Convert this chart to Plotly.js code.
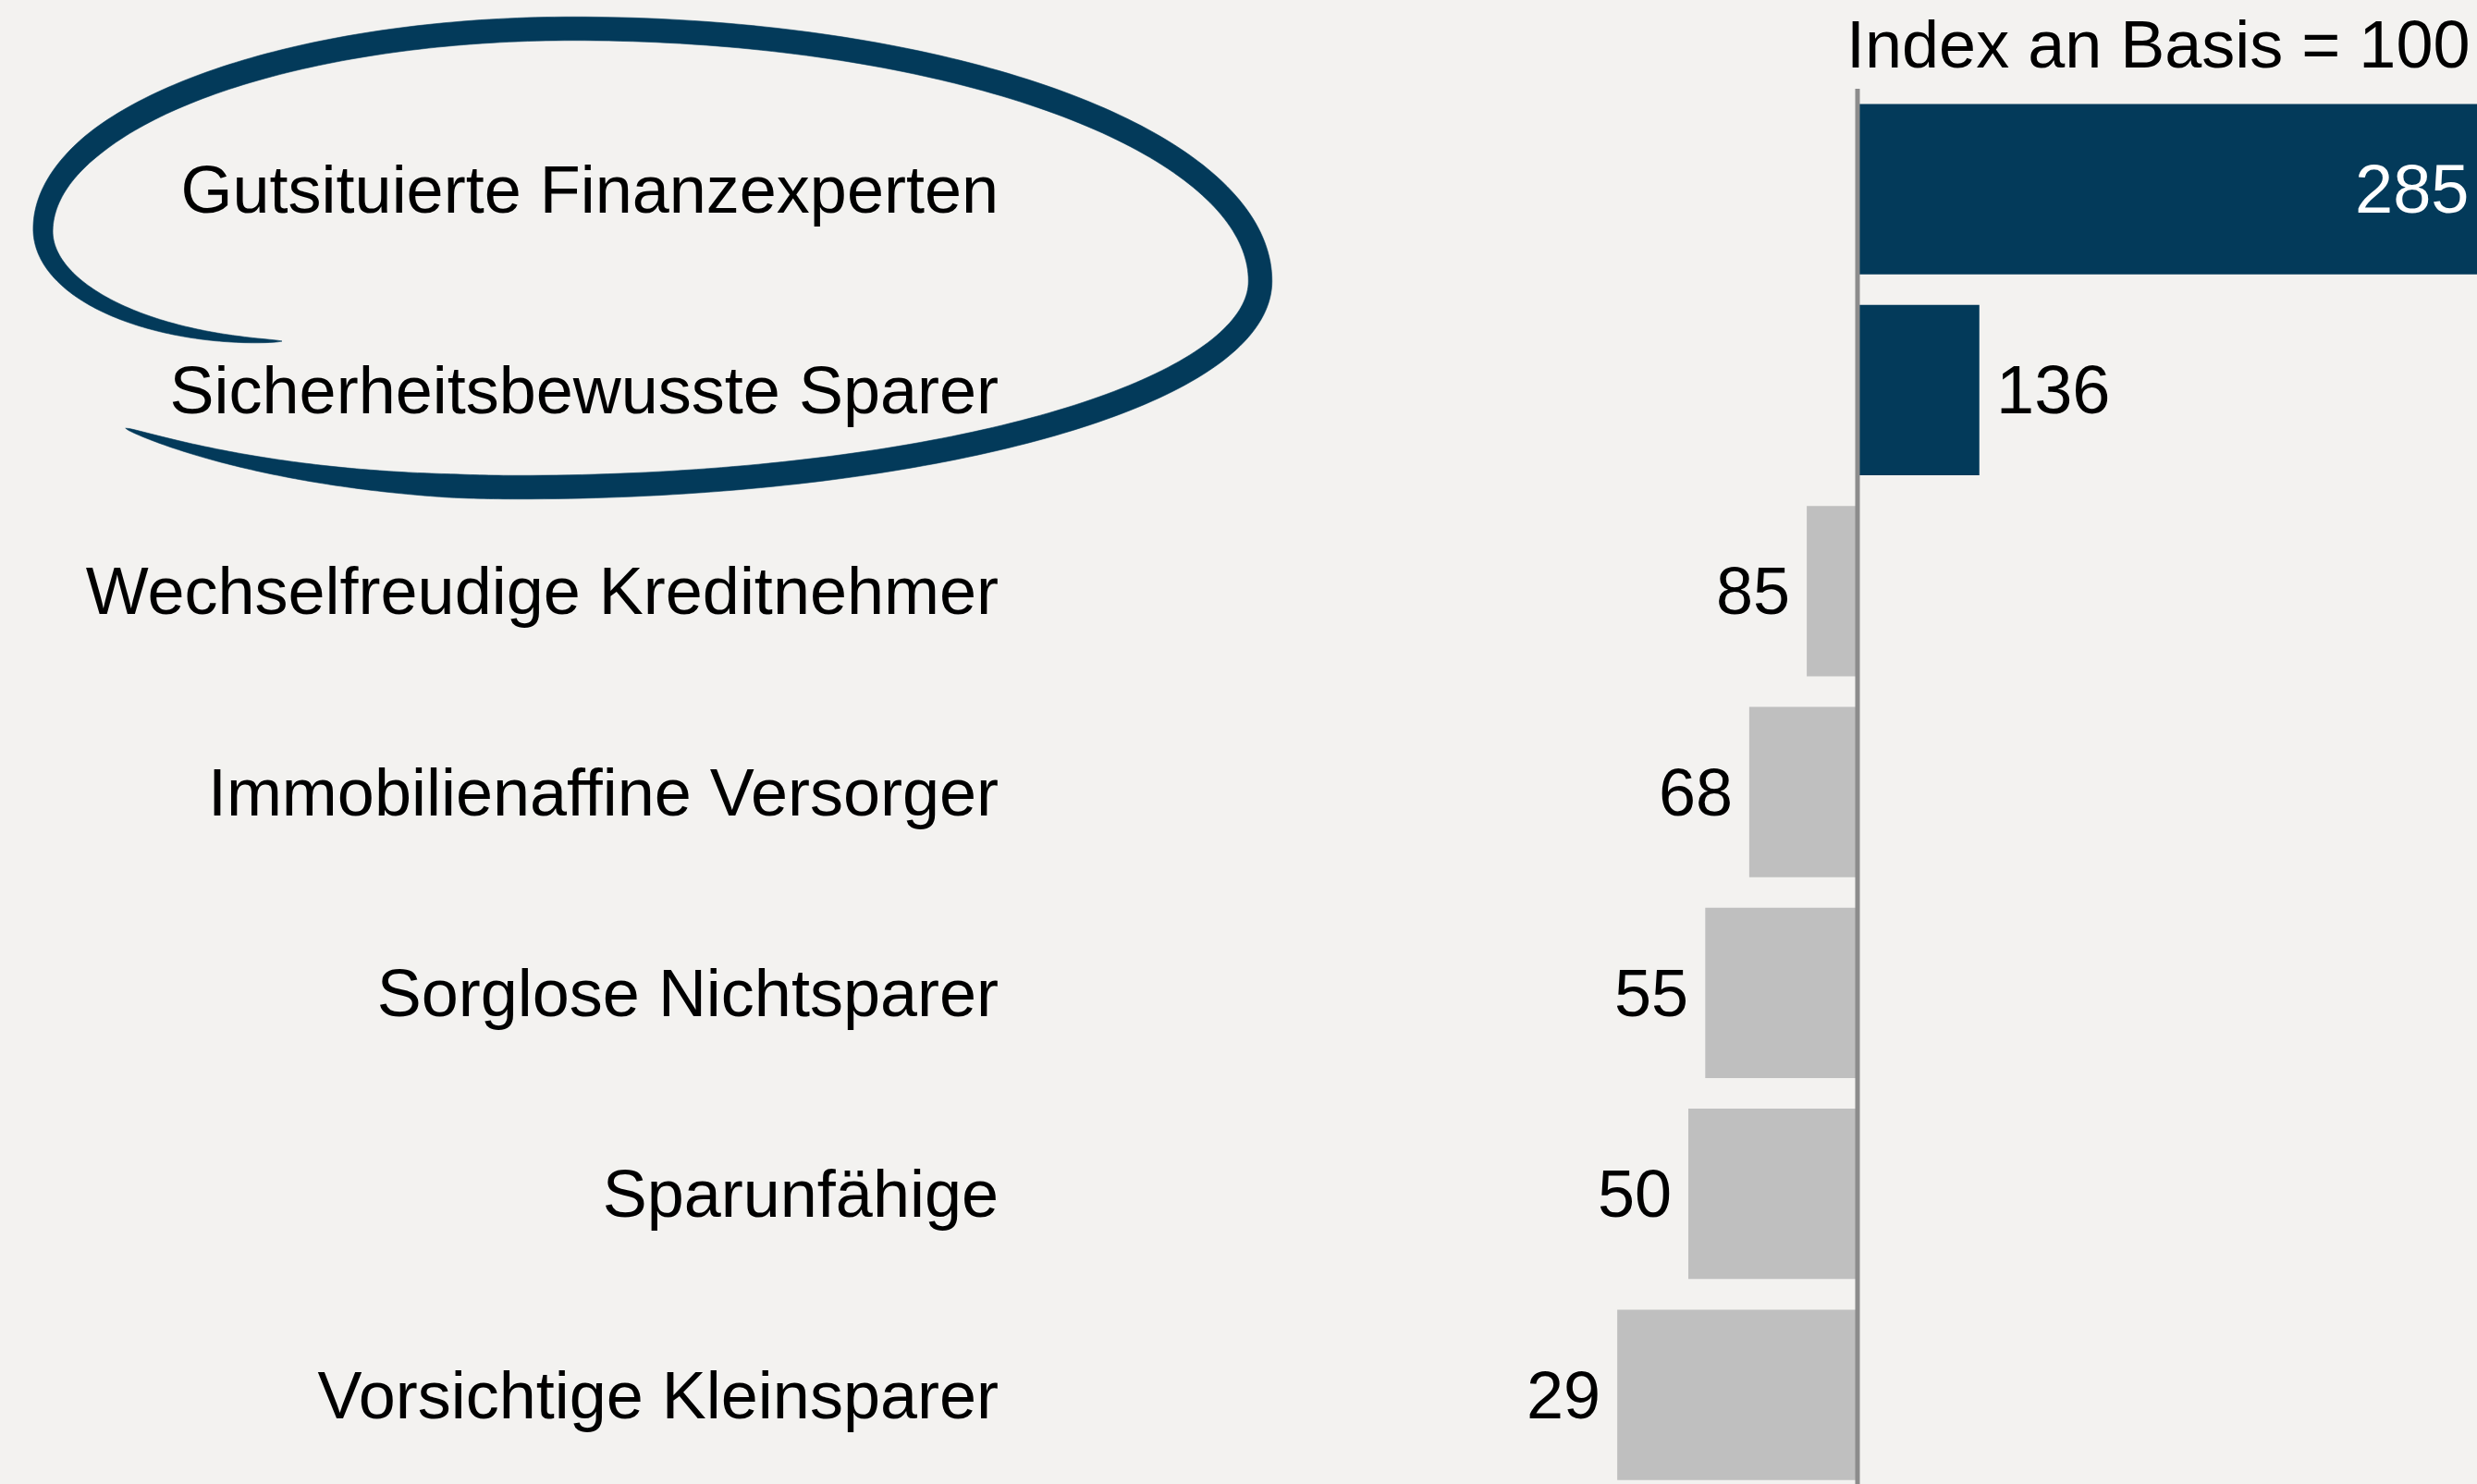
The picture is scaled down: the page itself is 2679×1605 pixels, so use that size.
<!DOCTYPE html>
<html>
<head>
<meta charset="utf-8">
<script src="https://cdn.plot.ly/plotly-3.0.1.min.js"></script>
<style>
  html, body { margin: 0; padding: 0; background: #f3f2f0; }
  #chart { width: 2679px; height: 1605px; }
</style>
</head>
<body>
<div id="chart"></div>
<script>
// ---- data ----
const categories = [
  "Gutsituierte Finanzexperten",
  "Sicherheitsbewusste Sparer",
  "Wechselfreudige Kreditnehmer",
  "Immobilienaffine Versorger",
  "Sorglose Nichtsparer",
  "Sparunfähige",
  "Vorsichtige Kleinsparer"
];
const indexValues = [285, 136, 85, 68, 55, 50, 29];
const baseValue = 100;
const chartTitle = "Index an Basis = 100";

// ---- style ----
const W = 2679, H = 1605;
const M = { l: 1081, r: 0, t: 96, b: 0 };
const plotW = W - M.l - M.r, plotH = H - M.t - M.b;
const bg = "#f3f2f0";
const navy = "#033a5a";
const grey = "#bfbfbf";
const axisGrey = "#8c8c8c";
const fontFam = "Liberation Sans, Arial, sans-serif";
const xRange = [-153.55, 283.06];
const yRange = [6.444, -0.5];

const barColors = indexValues.map(v => v > baseValue ? navy : grey);

const trace = {
  type: "bar",
  orientation: "h",
  y: categories,
  x: indexValues.map(v => v - baseValue),
  base: indexValues.map(() => baseValue),
  marker: { color: barColors, line: { width: 0 } },
  hoverinfo: "skip",
  cliponaxis: true
};

// value labels
const annotations = indexValues.map((v, i) => {
  if (v > xRange[1]) {
    return { x: xRange[1], y: categories[i], xref: "x", yref: "y", text: String(v),
      showarrow: false, xanchor: "right", yanchor: "middle", xshift: -7,
      font: { family: fontFam, size: 74, color: "#ffffff" } };
  } else if (v >= baseValue) {
    return { x: v, y: categories[i], xref: "x", yref: "y", text: String(v),
      showarrow: false, xanchor: "left", yanchor: "middle", xshift: 16,
      font: { family: fontFam, size: 74, color: "#000000" } };
  } else {
    return { x: v, y: categories[i], xref: "x", yref: "y", text: String(v),
      showarrow: false, xanchor: "right", yanchor: "middle", xshift: -16,
      font: { family: fontFam, size: 72, color: "#000000" } };
  }
});
annotations.push({
  x: 1, y: 1 + (M.t - 48) / plotH, xref: "paper", yref: "paper",
  text: chartTitle, showarrow: false, xanchor: "right", yanchor: "middle", xshift: -6,
  font: { family: fontFam, size: 72, color: "#000000" }
});

// ---- hand-drawn highlight loop (decoration, built in pixel space, mapped to paper) ----
// centre-line made of elliptical arcs: [cx, cy, rx, ry, thetaFrom, thetaTo]
const PI = Math.PI;
const arcs = [
  [560, 309, 600, 218,  0.75 * PI, PI / 2],
  [560, 304, 803, 223,  PI / 2, 0],
  [620, 304, 743, 273,  0,     -PI / 2],
  [620, 249, 573.5, 218, -PI / 2, -PI],
  [305, 249, 258.5, 120,  PI,     PI / 2]
];
const centre = [];
arcs.forEach((a, k) => {
  const n = 90;
  for (let i = (k === 0 ? 0 : 1); i <= n; i++) {
    const t = a[4] + (a[5] - a[4]) * i / n;
    centre.push([a[0] + a[2] * Math.cos(t), a[1] + a[3] * Math.sin(t)]);
  }
});
const cum = [0];
for (let i = 1; i < centre.length; i++) {
  const dx = centre[i][0] - centre[i - 1][0], dy = centre[i][1] - centre[i - 1][1];
  cum.push(cum[i - 1] + Math.hypot(dx, dy));
}
const total = cum[cum.length - 1];
function strokeW(d) {
  const full = 25.5;
  const a = Math.min(1, d / 360), b = Math.min(1, (total - d) / 420);
  return full * Math.pow(a, 0.55) * Math.pow(b, 0.6);
}
const outerPts = [], innerPts = [];
for (let i = 0; i < centre.length; i++) {
  const p = centre[i];
  const q0 = centre[Math.max(i - 1, 0)], q1 = centre[Math.min(i + 1, centre.length - 1)];
  let tx = q1[0] - q0[0], ty = q1[1] - q0[1];
  const len = Math.hypot(tx, ty) || 1; tx /= len; ty /= len;
  const nx = -ty, ny = tx;
  const w = strokeW(cum[i]) / 2;
  outerPts.push([p[0] + nx * w, p[1] + ny * w]);
  innerPts.push([p[0] - nx * w, p[1] - ny * w]);
}
function px2p(p) { return [(p[0] - M.l) / plotW, 1 - (p[1] - M.t) / plotH]; }
function fmt(p) { const q = px2p(p); return q[0].toFixed(5) + "," + q[1].toFixed(5); }
const ring = outerPts.concat(innerPts.reverse());
const loopPath = "M" + ring.map(fmt).join(" L") + " Z";

const shapes = [
  { type: "line", xref: "x", yref: "paper", x0: baseValue, x1: baseValue, y0: 0, y1: 1,
    line: { color: axisGrey, width: 5 }, layer: "above" },
  { type: "path", xref: "paper", yref: "paper", path: loopPath,
    fillcolor: navy, line: { width: 0.6, color: navy }, layer: "above" }
];

const layout = {
  width: W, height: H,
  margin: M,
  paper_bgcolor: bg, plot_bgcolor: bg,
  showlegend: false,
  bargap: 0.152,
  xaxis: { range: xRange, autorange: false, showgrid: false, zeroline: false,
    showticklabels: false, ticks: "", showline: false, fixedrange: true },
  yaxis: { type: "category", categoryarray: categories, categoryorder: "array",
    range: yRange, autorange: false, showgrid: false, zeroline: false, showline: false,
    ticks: "", tickfont: { family: fontFam, size: 72, color: "#000000" }, fixedrange: true },
  annotations: annotations,
  shapes: shapes
};

Plotly.newPlot("chart", [trace], layout, { displayModeBar: false, staticPlot: true });
</script>
</body>
</html>
